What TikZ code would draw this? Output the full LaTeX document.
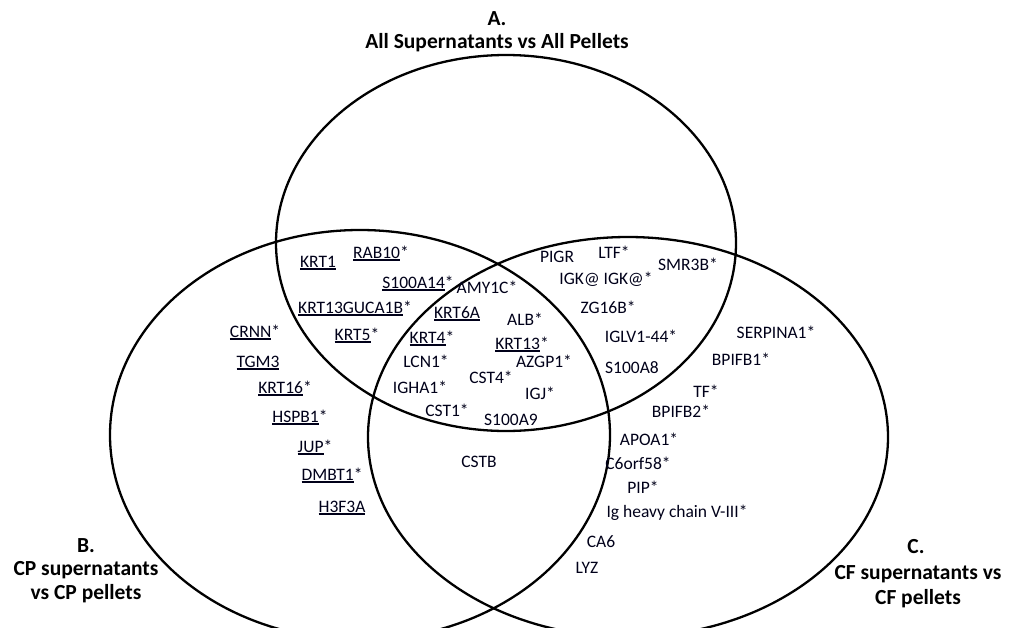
\documentclass[tikz,border=0pt]{standalone}
\usepackage{fontspec}
\setmainfont{Carlito}
\newcommand\genul[1]{\setbox0\hbox{#1}\rlap{\rule[-2.6pt]{\wd0}{1.2pt}}\box0}
\tikzset{
  gene/.style={font=\fontsize{17.5}{20}\selectfont, anchor=base, inner sep=0pt, text=black!90!blue},
  setlabel/.style={font=\fontsize{21.5}{24}\selectfont\bfseries, anchor=base, inner sep=0pt, align=center},
  setring/.style={draw=black, line width=2.3pt}
}
\begin{document}
\begin{tikzpicture}[x=1pt,y=-1pt]
\useasboundingbox (0,0) rectangle (1009,627);
\clip (0,0) rectangle (1009,627);

% the three sets
\draw[setring] (506,243) ellipse [x radius=230pt, y radius=188pt];
\draw[setring] (360,435) ellipse [x radius=250pt, y radius=205pt];
\draw[setring] (628,437) ellipse [x radius=260pt, y radius=200pt];

% set titles
\node[setlabel] (tA1) at (497,25) {A.};
\node[setlabel] (tA2) at (497,48) {All Supernatants vs All Pellets};
\node[setlabel] (tB1) at (86,552) {B.};
\node[setlabel] (tB2) at (86,575) {CP supernatants};
\node[setlabel] (tB3) at (86,599) {vs CP pellets};
\node[setlabel] (tC1) at (916,553) {C.};
\node[setlabel] (tC2) at (918,579) {CF supernatants vs};
\node[setlabel] (tC3) at (918,604) {CF pellets};

% A and B only
\node[gene] (krt1) at (318,267) {\genul{KRT1}};
\node[gene] (rab10) at (381,258) {\genul{RAB10}*};
\node[gene] (s100a14) at (418,288) {\genul{S100A14}*};
\node[gene] (krt13g) at (355,313) {\genul{KRT13GUCA1B}*};
\node[gene] (krt5) at (357,340) {\genul{KRT5}*};

% B only
\node[gene] (crnn) at (255,337) {\genul{CRNN}*};
\node[gene] (tgm3) at (258,367) {\genul{TGM3}};
\node[gene] (krt16) at (285,393) {\genul{KRT16}*};
\node[gene] (hspb1) at (300,422) {\genul{HSPB1}*};
\node[gene] (jup) at (315,452) {\genul{JUP}*};
\node[gene] (dmbt1) at (332,480) {\genul{DMBT1}*};
\node[gene] (h3f3a) at (342,512) {\genul{H3F3A}};

% A, B and C
\node[gene] (amy1c) at (487,293) {AMY1C*};
\node[gene] (krt6a) at (457,318) {\genul{KRT6A}};
\node[gene] (alb) at (525,325) {ALB*};
\node[gene] (krt4) at (432,343) {\genul{KRT4}*};
\node[gene] (krt13) at (522,349) {\genul{KRT13}*};
\node[gene] (lcn1) at (426,367) {LCN1*};
\node[gene] (azgp1) at (544,367) {AZGP1*};
\node[gene] (cst4) at (491,383) {CST4*};
\node[gene] (igha1) at (420,393) {IGHA1*};
\node[gene] (igj) at (540,399) {IGJ*};
\node[gene] (cst1) at (447,416) {CST1*};
\node[gene] (s100a9) at (511,425) {S100A9};

% B and C only
\node[gene] (cstb) at (479,467) {CSTB};

% A and C only
\node[gene] (pigr) at (557,262) {PIGR};
\node[gene] (ltf) at (614,258) {LTF*};
\node[gene] (smr3b) at (688,270) {SMR3B*};
\node[gene] (igk) at (606,284) {IGK@ IGK@*};
\node[gene] (zg16b) at (608,313) {ZG16B*};
\node[gene] (iglv) at (641,342) {IGLV1-44*};
\node[gene] (s100a8) at (632,373) {S100A8};

% C only
\node[gene] (serpina1) at (776,338) {SERPINA1*};
\node[gene] (bpifb1) at (741,365) {BPIFB1*};
\node[gene] (tf) at (706,397) {TF*};
\node[gene] (bpifb2) at (681,417) {BPIFB2*};
\node[gene] (apoa1) at (649,445) {APOA1*};
\node[gene] (c6orf58) at (638,469) {C6orf58*};
\node[gene] (pip) at (643,493) {PIP*};
\node[gene] (ighv) at (677,517) {Ig heavy chain V-III*};
\node[gene] (ca6) at (601,547) {CA6};
\node[gene] (lyz) at (587,573) {LYZ};
\end{tikzpicture}
\end{document}
